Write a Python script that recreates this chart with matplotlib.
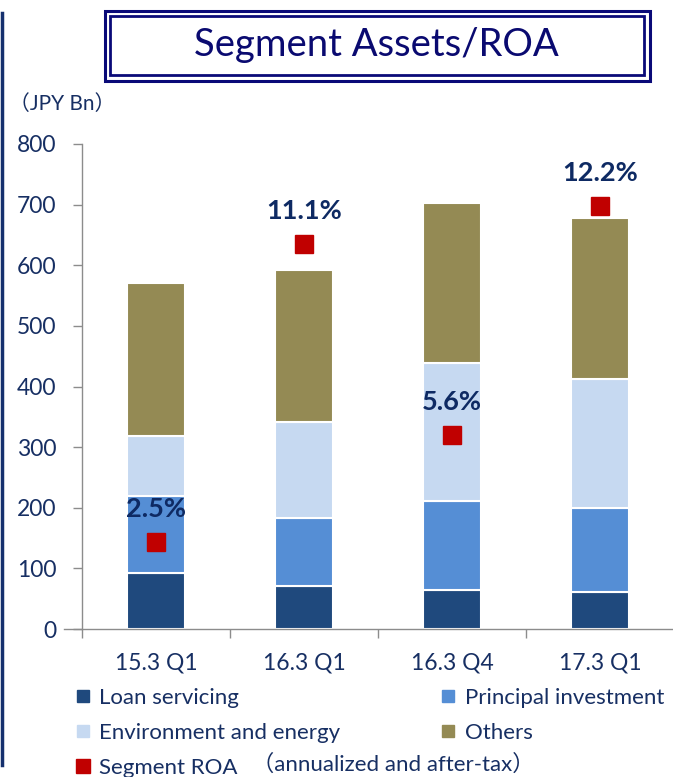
import matplotlib.pyplot as plt
from matplotlib.lines import Line2D
from matplotlib.patches import Rectangle
import numpy as np

# data
periods = ["15.3 Q1", "16.3 Q1", "16.3 Q4", "17.3 Q1"]
loan_servicing = [92, 71, 64, 61]
principal_investment = [128, 112, 147, 138]
environment_energy = [98, 159, 227, 214]
others = [252, 250, 264, 265]
segment_roa = [2.5, 11.1, 5.6, 12.2]
roa_labels = ["2.5%", "11.1%", "5.6%", "12.2%"]
yticks = [0, 100, 200, 300, 400, 500, 600, 700, 800]

series = [
    ("Loan servicing", loan_servicing, "#1F497D"),
    ("Principal investment", principal_investment, "#558ED5"),
    ("Environment and energy", environment_energy, "#C6D9F1"),
    ("Others", others, "#948A54"),
]

navy = "#172F63"
plt.rcParams['font.family'] = ['Lato', 'Noto Sans CJK JP', 'DejaVu Sans']

fig = plt.figure(figsize=(6.73, 7.77), dpi=100)
W, H = 673, 777
ax = fig.add_axes([82 / W, 1 - 629 / H, (674 - 82) / W, (629 - 144) / H])

x = np.arange(len(periods))
bottom = np.zeros(len(periods))
for name, vals, col in series:
    ax.bar(x, vals, width=0.39, bottom=bottom, color=col,
           edgecolor="white", linewidth=1.5, label=name, zorder=2)
    bottom += np.array(vals)

ax.set_xlim(-0.5, 3.5)
ax.set_ylim(0, 800)
ax.set_yticks(yticks)
ax.set_xticks(x)
ax.set_xticklabels(periods)
ax.set_xticks([-0.5, 0.5, 1.5, 2.5, 3.5], minor=True)
ax.tick_params(axis="x", which="major", length=0, pad=17, labelsize=16.5, labelcolor=navy)
ax.tick_params(axis="x", which="minor", length=6.5, width=1, color="#8C8C8C", direction="out")
ax.tick_params(axis="y", length=6.5, width=1, color="#8C8C8C", pad=12, labelsize=16.5, labelcolor=navy)
for s in ["top", "right"]:
    ax.spines[s].set_visible(False)
for s in ["left", "bottom"]:
    ax.spines[s].set_color("#8C8C8C")
    ax.spines[s].set_linewidth(1)
ax.spines["bottom"].set_bounds(-0.62, 3.5)

# ROA on a hidden secondary scale
ax2 = ax.twinx()
ax2.set_ylim(0, 14)
ax2.axis("off")
ax2.plot(x, segment_roa, linestyle="none", marker="s", markersize=13,
         color="#C00000", zorder=3)
for xi, v, lab in zip(x, segment_roa, roa_labels):
    ax2.annotate(lab, (xi, v), xytext=(0, 24), textcoords="offset points",
                 ha="center", va="center", fontsize=19.5, fontweight="bold", color="#0E2A63")

# title box
fig.patches.append(Rectangle((104.5 / W, 1 - 80.5 / H), 545 / W, 70 / H,
                             transform=fig.transFigure, fill=False,
                             edgecolor="#0A0A78", linewidth=2.2))
fig.patches.append(Rectangle((110 / W, 1 - 75 / H), 534 / W, 59 / H,
                             transform=fig.transFigure, fill=False,
                             edgecolor="#0A0A78", linewidth=2.0))
fig.text(376 / W, 1 - 45 / H, "Segment Assets/ROA", ha="center", va="center",
         fontsize=27.5, color="#0A0A70")

# left rule
fig.add_artist(Line2D([2 / W, 2 / W], [1 - 13 / H, 1 - 765 / H],
                      transform=fig.transFigure, color="#15306E", linewidth=2.5))

fig.text(9 / W, 1 - 104 / H, "（JPY Bn）", ha="left", va="center",
         fontsize=15, color=navy)

# legend
handles = [
    Line2D([], [], linestyle="none", marker="s", markersize=8, color=series[0][2]),
    Line2D([], [], linestyle="none", marker="s", markersize=8, color=series[2][2]),
    Line2D([], [], linestyle="none", marker="s", markersize=10.5, color="#C00000"),
    Line2D([], [], linestyle="none", marker="s", markersize=8, color=series[1][2]),
    Line2D([], [], linestyle="none", marker="s", markersize=8, color=series[3][2]),
]
labels = [series[0][0], series[2][0], "Segment ROA", series[1][0], series[3][0]]
leg = fig.legend(handles, labels, ncol=2, loc="upper left",
                 bbox_to_anchor=(76 / W, 1 - 688 / H), frameon=False,
                 fontsize=16, handlelength=0.6, handletextpad=0.45,
                 labelspacing=0.68, columnspacing=4.55, borderaxespad=0, borderpad=0)
for t in leg.get_texts():
    t.set_color(navy)

fig.text(252 / W, 1 - 764 / H, "（annualized and after-tax）", ha="left", va="center",
         fontsize=16, color=navy)

fig.savefig("out.png", dpi=100)
